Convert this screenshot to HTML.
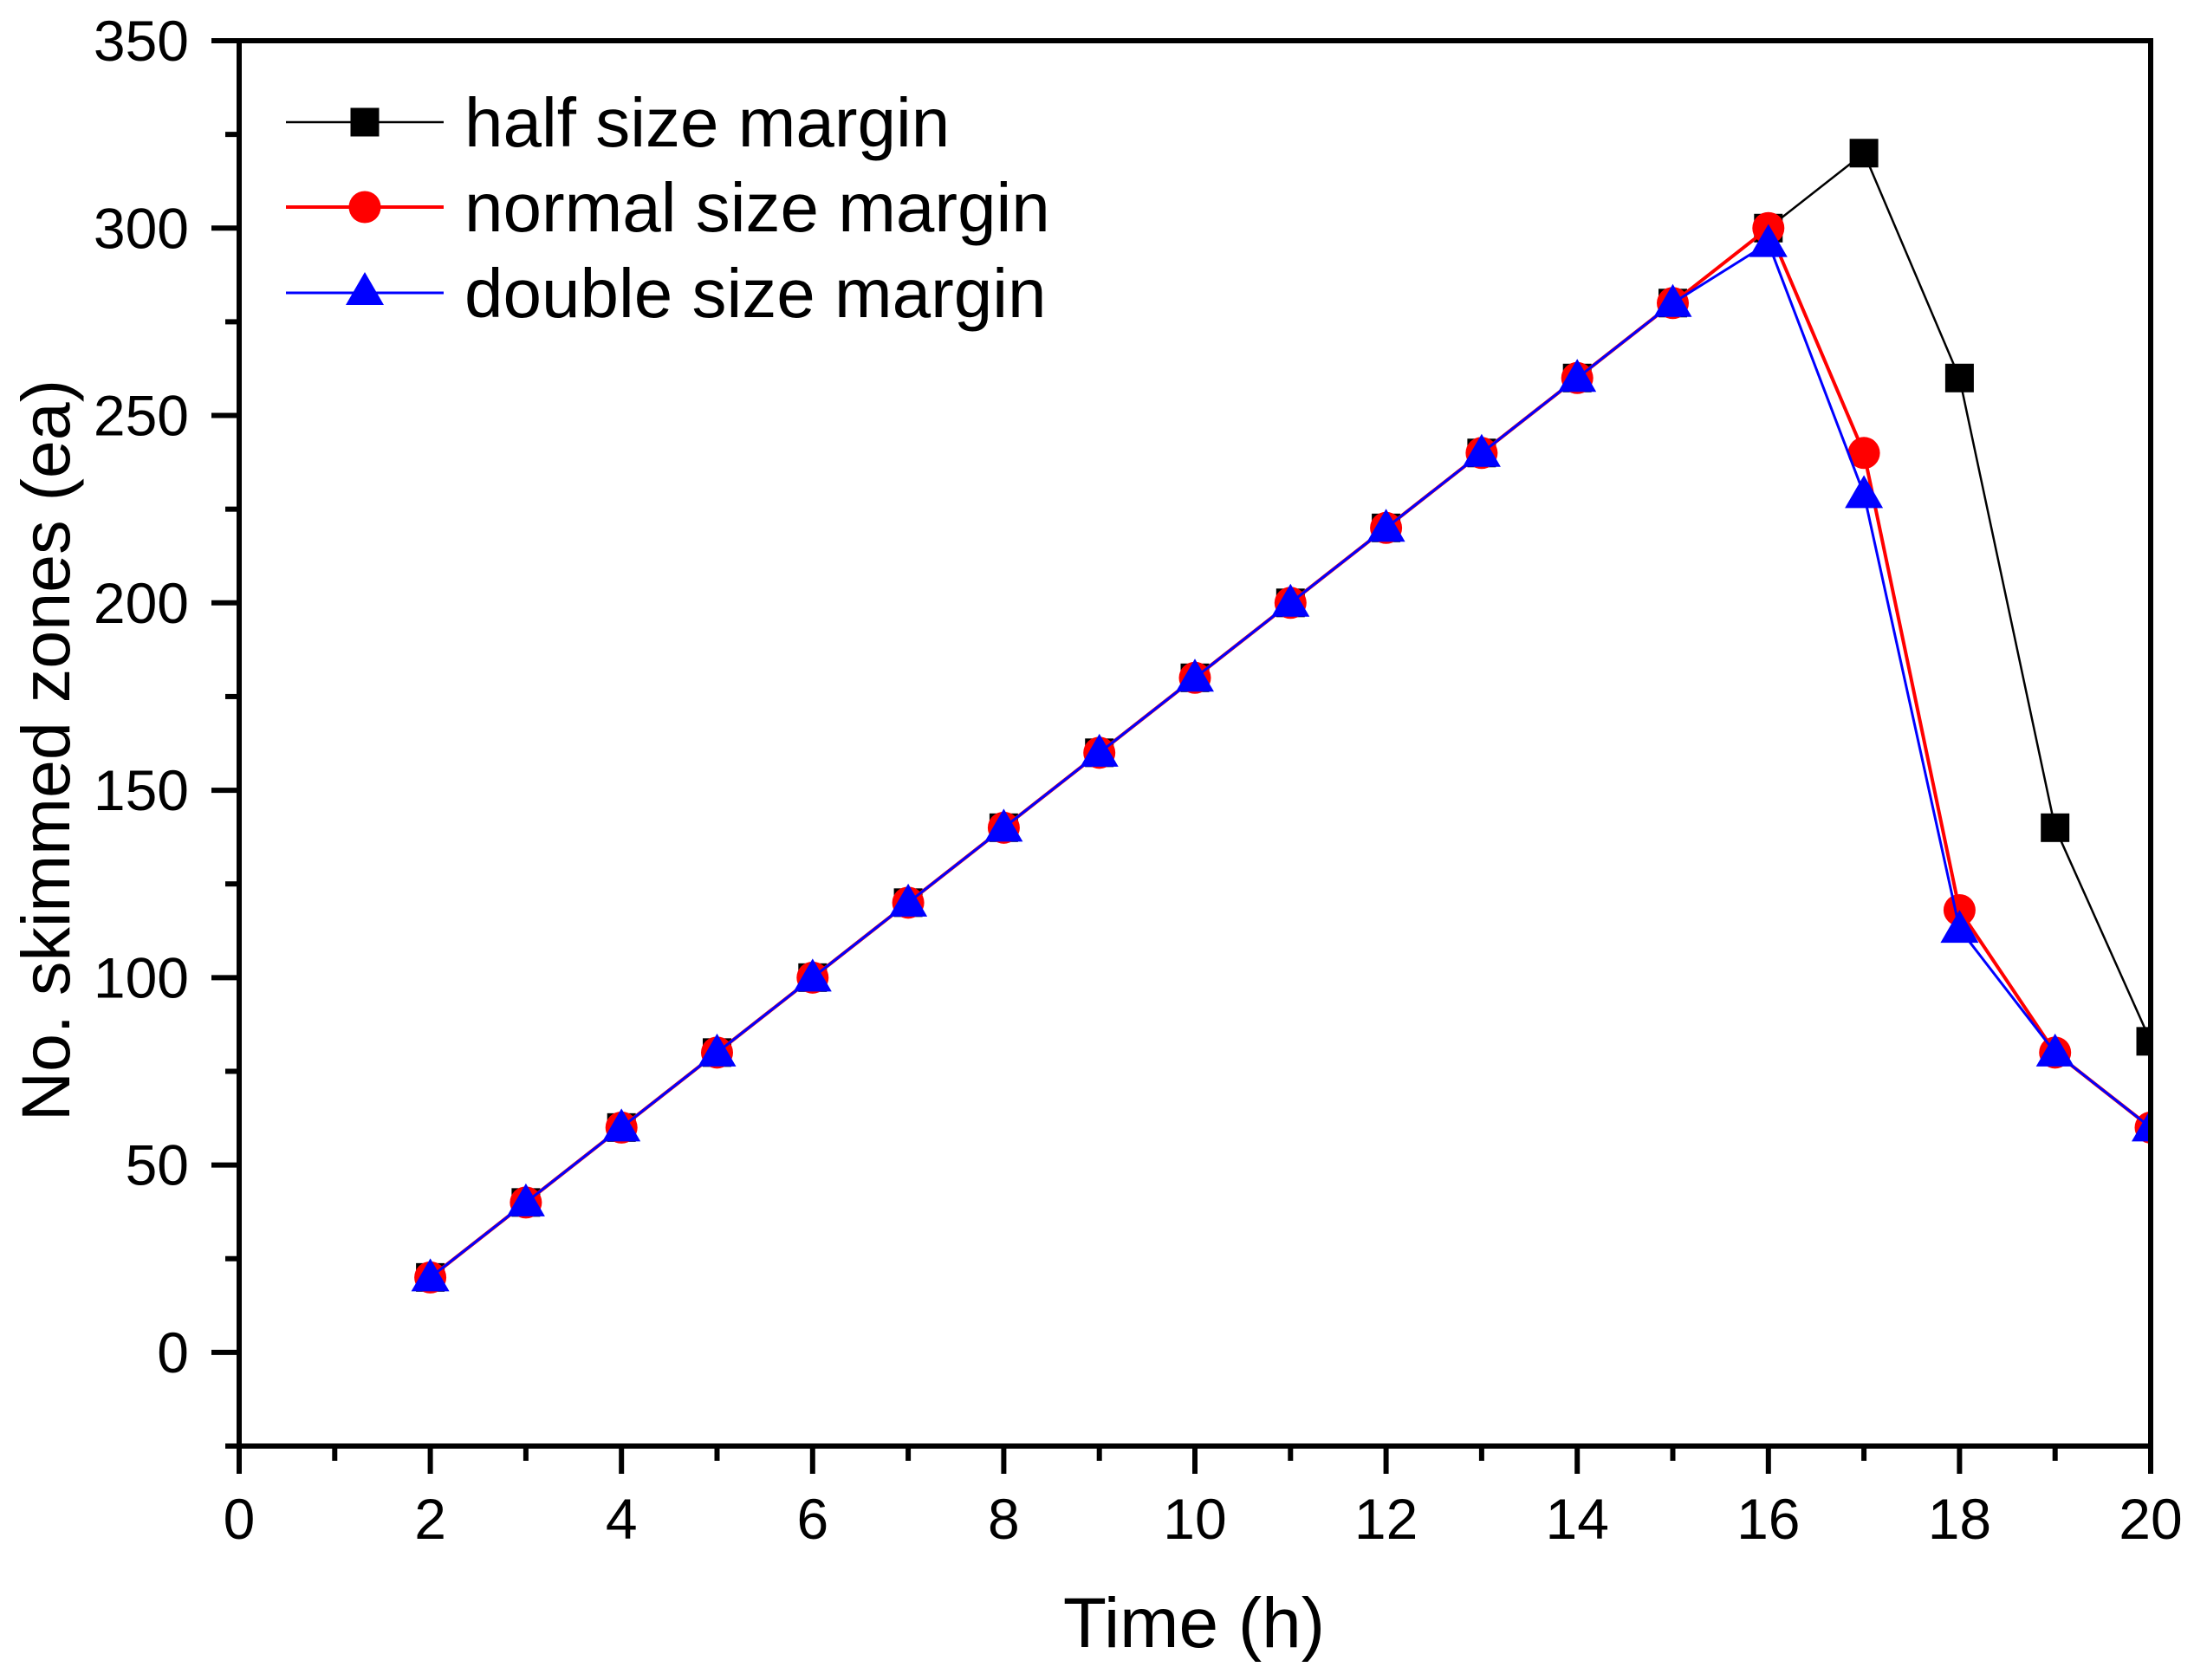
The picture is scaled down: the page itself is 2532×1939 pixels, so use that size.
<!DOCTYPE html>
<html><head><meta charset="utf-8"><style>
html,body{margin:0;padding:0;background:#fff;}
svg{display:block;font-family:"Liberation Sans",Arial,sans-serif;}
</style></head><body>
<svg id="chart" width="2532" height="1939" viewBox="0 0 2532 1939" xmlns="http://www.w3.org/2000/svg">
<defs><clipPath id="plotclip"><rect x="276" y="47" width="2206" height="1622"/></clipPath></defs>
<rect x="0" y="0" width="2532" height="1939" fill="#fff"/>
<g id="series" clip-path="url(#plotclip)"></g>
<g id="axes"></g>
<g id="legend"></g>
<text x="1378" y="1901" font-size="82" text-anchor="middle">Time (h)</text>
<text transform="translate(80,866) rotate(-90)" font-size="79" text-anchor="middle">No. skimmed zones (ea)</text>
</svg>
<script>
const times = [2,3,4,5,6,7,8,9,10,11,12,13,14,15,16,17,18,19,20];
const halfSize = [20,40,60,80,100,120,140,160,180,200,220,240,260,280,300,320,260,140,83];
const normalSize = [20,40,60,80,100,120,140,160,180,200,220,240,260,280,300,240,118,80,60];
const doubleSize = [20,40,60,80,100,120,140,160,180,200,220,240,260,280,296,229,113,80,60];
const xTickLabels = ["0","2","4","6","8","10","12","14","16","18","20"];
const yTickLabels = ["0","50","100","150","200","250","300","350"];
const legendLabels = ["half size margin","normal size margin","double size margin"];

const NS="http://www.w3.org/2000/svg";
const L=276,R=2482,T=47,B=1669;
const xMin=0,xMax=20,yMin=-25,yMax=350;
function sx(v){return L+(v-xMin)/(xMax-xMin)*(R-L);}
function sy(v){return B-(v-yMin)/(yMax-yMin)*(B-T);}
function mk(tag,attrs,parent){const e=document.createElementNS(NS,tag);for(const k in attrs)e.setAttribute(k,attrs[k]);parent.appendChild(e);return e;}

const axes=document.getElementById('axes');
const fr=mk('rect',{x:L,y:T,width:R-L,height:B-T,fill:'none',stroke:'#000','stroke-width':6},axes);


for(let v=0;v<=20;v++){
  const major=v%2===0;
  const t=mk('line',{x1:sx(v),x2:sx(v),y1:B,y2:B+(major?32:17),stroke:'#000','stroke-width':6},axes);
  
  
}
xTickLabels.forEach(s=>{
  const v=parseFloat(s);
  const tx=mk('text',{x:sx(v),y:1776,'font-size':66,'text-anchor':'middle'},axes);
  tx.textContent=s;
  
  
});
for(let v=-25;v<=350;v+=25){
  const major=v%50===0;
  const t=mk('line',{x1:L-(major?32:16),x2:L,y1:sy(v),y2:sy(v),stroke:'#000','stroke-width':6},axes);
  
  
}
yTickLabels.forEach(s=>{
  const v=parseFloat(s);
  const tx=mk('text',{x:218,y:sy(v)+23,'font-size':66,'text-anchor':'end'},axes);
  tx.textContent=s;
  
  
});

function marker(kind,cx,cy,color,parent){
  let m;
  if(kind==='square') m=mk('rect',{x:cx-16.5,y:cy-16.5,width:33,height:33,fill:color},parent);
  else if(kind==='circle') m=mk('circle',{cx:cx,cy:cy,r:18.5,fill:color},parent);
  else m=mk('polygon',{points:`${cx},${cy-22} ${cx+22},${cy+16} ${cx-22},${cy+16}`,fill:color},parent);
  return m;
}
const seriesG=document.getElementById('series');
const defs=[
  {name:'half-size',vals:halfSize,color:'#000',w:2.5,kind:'square'},
  {name:'normal-size',vals:normalSize,color:'#ff0000',w:4,kind:'circle'},
  {name:'double-size',vals:doubleSize,color:'#0000ff',w:3,kind:'triangle'}
];
defs.forEach(d=>{
  const g=mk('g',{},seriesG);
  
  
  const pts=times.map((t,i)=>sx(t)+','+sy(d.vals[i])).join(' ');
  const pl=mk('polyline',{points:pts,fill:'none',stroke:d.color,'stroke-width':d.w,'stroke-linejoin':'round'},g);
  
  
  times.forEach((t,i)=>{
    const m=marker(d.kind,sx(t),sy(d.vals[i]),d.color,g);
    
    
  });
});

const lg=document.getElementById('legend');
const rowsY=[141,239,338];
defs.forEach((d,i)=>{
  const y=rowsY[i];
  const ln=mk('line',{x1:330,x2:512,y1:y,y2:y,stroke:d.color,'stroke-width':d.w},lg);
  
  
  const m=marker(d.kind,421,d.kind==='triangle'?y-2:y,d.color,lg);
  
  
  const tx=mk('text',{x:536,y:y+28,'font-size':80},lg);
  tx.textContent=legendLabels[i];
  
  
});
</script>
</body></html>
